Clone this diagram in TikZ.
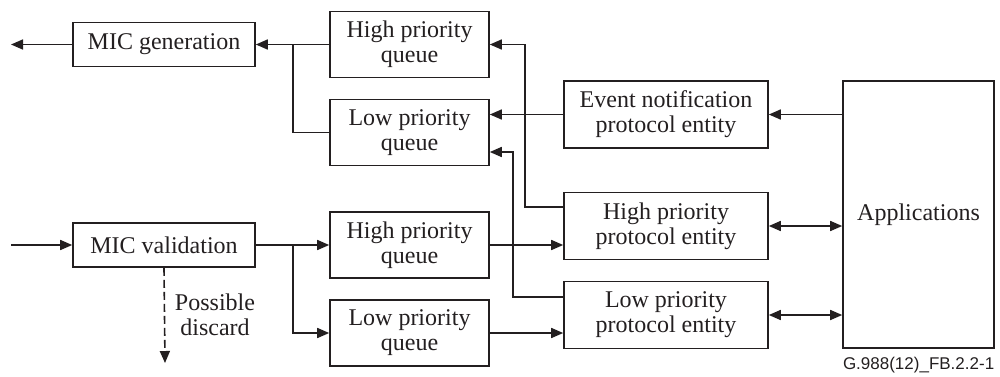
\documentclass[tikz,border=0pt]{standalone}
\usepackage{fontspec}
\setmainfont{Liberation Serif}
\newfontfamily\labelfont{Liberation Sans}
\usetikzlibrary{arrows.meta,calc}
\definecolor{ink}{RGB}{35,31,32}
\begin{document}
\begin{tikzpicture}[x=0.5pt,y=-0.5pt,
  line width=0.8pt, color=ink,
  box/.style={draw,rectangle,inner sep=0pt,align=center,font=\fontsize{12}{12.5}\selectfont},
  qbox/.style={box,minimum width=79.5pt,minimum height=33pt},
  pbox/.style={box,minimum width=102pt,minimum height=33.5pt},
  mbox/.style={box,minimum width=91pt,minimum height=22pt},
  arr/.style={-{Triangle[length=6pt,width=5pt]}},
  darr/.style={{Triangle[length=6pt,width=5pt]}-{Triangle[length=6pt,width=5pt]}}]
\useasboundingbox (0,0) rectangle (1000,376);
% nodes
\node[mbox] (micg) at (164,44.5) {MIC generation};
\node[qbox] (hq1) at (409.5,44.5) {High priority\\queue};
\node[qbox] (lq1) at (409.5,132.5) {Low priority\\queue};
\node[pbox] (enpe) at (666,114.5) {Event notification\\protocol entity};
\node[box,minimum width=75.5pt,minimum height=133.5pt] (app) at (918.5,214.5) {Applications};
\node[mbox] (micv) at (164,245) {MIC validation};
\node[qbox] (hq2) at (409.5,245) {High priority\\queue};
\node[qbox] (lq2) at (409.5,333) {Low priority\\queue};
\node[pbox] (hppe) at (666,226) {High priority\\protocol entity};
\node[pbox] (lppe) at (666,315) {Low priority\\protocol entity};
\node[align=center,inner sep=0pt,font=\fontsize{12}{12.5}\selectfont] (disc) at (215,315) {Possible\\discard};
\node[anchor=east,inner sep=0pt,font=\labelfont\fontsize{8.5}{10}\selectfont] (fig) at (995,365) {G.988(12)\_FB.2.2-1};
% coordinates
\coordinate (out) at (11,44.5);
\coordinate (in) at (11,245);
\coordinate (j1) at (293,44.5);
\coordinate (j2) at (293,245);
\coordinate (drop) at (165,363);
% connectors
\draw[arr] (micg.west) -- (out);
\draw[arr] (hq1.west) -- (micg.east);
\draw (lq1.west) -| (j1);
\draw[arr] (enpe.west) -- (enpe.west -| lq1.east);
\draw[arr] (enpe.east -| app.west) -- (enpe.east);
\draw[arr] ([yshift=9.5pt]hppe.west) -- ++(-38,0) |- (hq1.east);
\draw[arr] ([yshift=9pt]lppe.west) -- ++(-50,0) |- ([yshift=-9.75pt]lq1.east);
\draw[arr] (in) -- (micv.west);
\draw[arr] (micv.east) -- (hq2.west);
\draw[arr] (j2) |- (lq2.west);
\draw[arr,dash pattern=on 4pt off 2pt] (micv.south) -- (drop);
\draw[arr] (hq2.east) -- (hq2.east -| hppe.west);
\draw[arr] (lq2.east) -- (lq2.east -| lppe.west);
\draw[darr] (hppe.east) -- (hppe.east -| app.west);
\draw[darr] (lppe.east) -- (lppe.east -| app.west);
\end{tikzpicture}
\end{document}
